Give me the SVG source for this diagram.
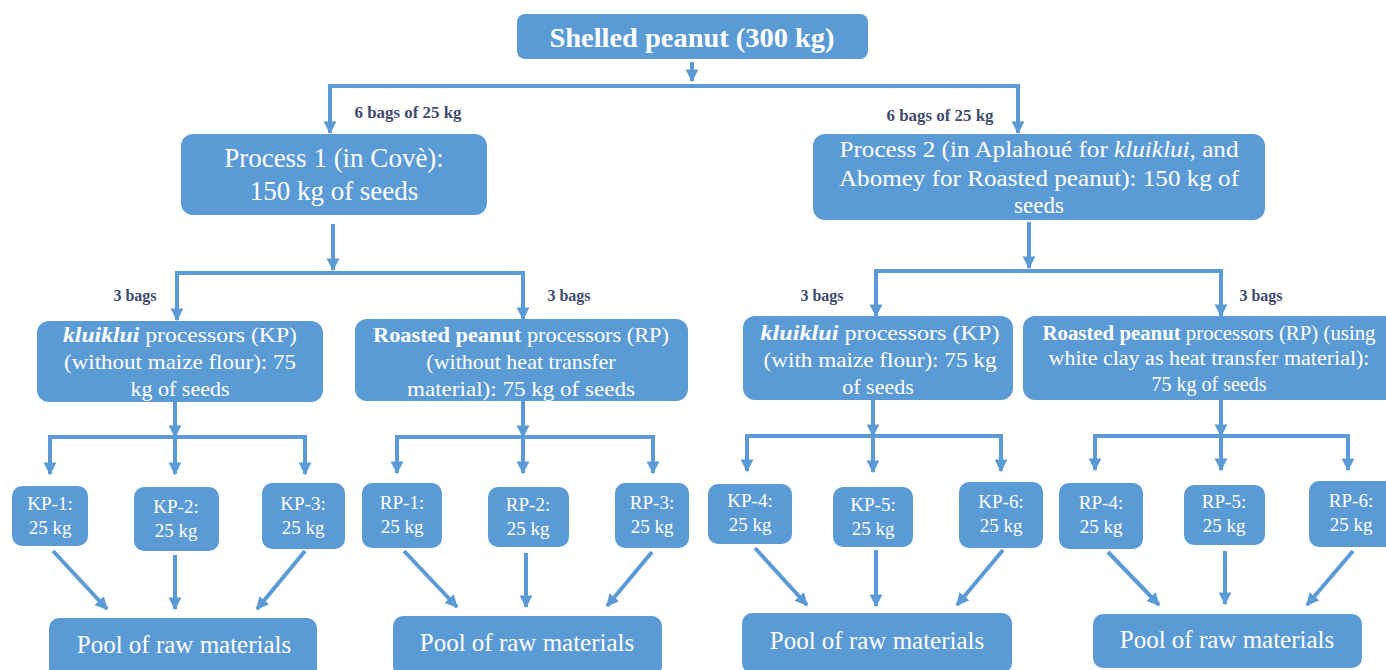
<svg xmlns="http://www.w3.org/2000/svg" width="1386" height="670" viewBox="0 0 1386 670" font-family="'Liberation Serif', 'Times New Roman', serif">
<defs>
<marker id="ah" viewBox="0 0 10 10" refX="9" refY="5" markerWidth="3.2" markerHeight="3.2" orient="auto" markerUnits="strokeWidth">
<path d="M0,0 L10,5 L0,10 z" fill="#5B9BD5"/>
</marker>
<style>
.box{fill:#5B9BD5;}
.t{font-family:"Liberation Serif","Times New Roman",serif;fill:#ffffff;text-anchor:middle;}
.lbl{font-family:"Liberation Serif","Times New Roman",serif;fill:#3E4B6E;font-size:16px;font-weight:bold;text-anchor:middle;}
.c{stroke:#5B9BD5;stroke-width:4;fill:none;}
.ca{stroke:#5B9BD5;stroke-width:4;fill:none;marker-end:url(#ah);}
</style>
</defs>
<rect width="1386" height="670" fill="#ffffff"/>

<g id="connectors">
<line class="ca" x1="692" y1="62" x2="692" y2="81"/>
<polyline class="c" points="330,133 330,86 1018,86 1018,133"/>
<line class="ca" x1="330" y1="100" x2="330" y2="133"/>
<line class="ca" x1="1018" y1="100" x2="1018" y2="133"/>
<line class="ca" x1="333" y1="224" x2="333" y2="270"/>
<polyline class="c" points="177,300 177,273 523,273 523,300"/>
<line class="ca" x1="177" y1="290" x2="177" y2="320"/>
<line class="ca" x1="523" y1="290" x2="523" y2="319"/>
<line class="ca" x1="1029" y1="222" x2="1029" y2="268"/>
<polyline class="c" points="876,300 876,271 1221,271 1221,300"/>
<line class="ca" x1="876" y1="290" x2="876" y2="316"/>
<line class="ca" x1="1221" y1="290" x2="1221" y2="316"/>

<line class="ca" x1="175" y1="402" x2="175" y2="437"/>
<polyline class="c" points="50,460 50,437 305,437 305,460"/>
<line class="ca" x1="50" y1="450" x2="50" y2="474"/>
<line class="ca" x1="175" y1="437" x2="175" y2="474"/>
<line class="ca" x1="305" y1="450" x2="305" y2="474"/>

<line class="ca" x1="523" y1="401" x2="523" y2="437"/>
<polyline class="c" points="397,460 397,437 653,437 653,460"/>
<line class="ca" x1="397" y1="450" x2="397" y2="473"/>
<line class="ca" x1="523" y1="437" x2="523" y2="473"/>
<line class="ca" x1="653" y1="450" x2="653" y2="473"/>

<line class="ca" x1="873" y1="400" x2="873" y2="436"/>
<polyline class="c" points="747,460 747,436 1001,436 1001,460"/>
<line class="ca" x1="747" y1="450" x2="747" y2="471"/>
<line class="ca" x1="873" y1="436" x2="873" y2="472"/>
<line class="ca" x1="1001" y1="450" x2="1001" y2="471"/>

<line class="ca" x1="1221" y1="400" x2="1221" y2="436"/>
<polyline class="c" points="1095,460 1095,436 1348,436 1348,460"/>
<line class="ca" x1="1095" y1="450" x2="1095" y2="470"/>
<line class="ca" x1="1221" y1="436" x2="1221" y2="470"/>
<line class="ca" x1="1348" y1="450" x2="1348" y2="470"/>

<line class="ca" x1="53" y1="551" x2="107" y2="609"/>
<line class="ca" x1="175" y1="555" x2="175" y2="609"/>
<line class="ca" x1="305" y1="551" x2="257" y2="609"/>
<line class="ca" x1="404" y1="551" x2="457" y2="607"/>
<line class="ca" x1="526" y1="553" x2="526" y2="607"/>
<line class="ca" x1="652" y1="552" x2="607" y2="606"/>
<line class="ca" x1="755" y1="548" x2="807" y2="605"/>
<line class="ca" x1="876" y1="550" x2="876" y2="606"/>
<line class="ca" x1="1003" y1="550" x2="957" y2="605"/>
<line class="ca" x1="1108" y1="552" x2="1159" y2="605"/>
<line class="ca" x1="1225" y1="551" x2="1225" y2="604"/>
<line class="ca" x1="1353" y1="551" x2="1307" y2="605"/>
</g>

<g id="labels">
<text class="lbl" x="408" y="118" textLength="107" lengthAdjust="spacingAndGlyphs">6 bags of 25 kg</text>
<text class="lbl" x="940" y="121" textLength="107" lengthAdjust="spacingAndGlyphs">6 bags of 25 kg</text>
<text class="lbl" x="135" y="301">3 bags</text>
<text class="lbl" x="569" y="301">3 bags</text>
<text class="lbl" x="822" y="301">3 bags</text>
<text class="lbl" x="1261" y="301">3 bags</text>
</g>

<g id="n-top">
<rect class="box" x="517" y="14" width="351" height="45" rx="8"/>
<text class="t" x="692" y="47" font-size="28" font-weight="bold" textLength="285" lengthAdjust="spacingAndGlyphs">Shelled peanut (300 kg)</text>
</g>

<g id="n-p1">
<rect class="box" x="181" y="134" width="306" height="81" rx="12"/>
<text class="t" x="334" y="167" font-size="27">Process 1 (in Covè):</text>
<text class="t" x="334" y="200" font-size="27">150 kg of seeds</text>
</g>

<g id="n-p2">
<rect class="box" x="813" y="134" width="452" height="86" rx="12"/>
<text class="t" x="1039" y="157" font-size="23" textLength="399" lengthAdjust="spacingAndGlyphs">Process 2 (in Aplahoué for <tspan font-style="italic">kluiklui</tspan>, and</text>
<text class="t" x="1039" y="186" font-size="23" textLength="400" lengthAdjust="spacingAndGlyphs">Abomey for Roasted peanut): 150 kg of</text>
<text class="t" x="1039" y="213" font-size="23">seeds</text>
</g>

<g id="n-kp1">
<rect class="box" x="37" y="321" width="286" height="81" rx="12"/>
<text class="t" x="180" y="342" font-size="22" textLength="234" lengthAdjust="spacingAndGlyphs"><tspan font-weight="bold" font-style="italic">kluiklui</tspan> processors (KP)</text>
<text class="t" x="180" y="369" font-size="22" textLength="232" lengthAdjust="spacingAndGlyphs">(without maize flour): 75</text>
<text class="t" x="180" y="396" font-size="22">kg of seeds</text>
</g>

<g id="n-rp1">
<rect class="box" x="355" y="319" width="333" height="82" rx="12"/>
<text class="t" x="521" y="342" font-size="21" textLength="296" lengthAdjust="spacingAndGlyphs"><tspan font-weight="bold">Roasted peanut</tspan> processors (RP)</text>
<text class="t" x="521" y="369" font-size="22">(without heat transfer</text>
<text class="t" x="521" y="396" font-size="22" textLength="228" lengthAdjust="spacingAndGlyphs">material): 75 kg of seeds</text>
</g>

<g id="n-kp2">
<rect class="box" x="743" y="316" width="270" height="84" rx="12"/>
<text class="t" x="880" y="340" font-size="22" textLength="239" lengthAdjust="spacingAndGlyphs"><tspan font-weight="bold" font-style="italic">kluiklui</tspan> processors (KP)</text>
<text class="t" x="880" y="367" font-size="22" textLength="233" lengthAdjust="spacingAndGlyphs">(with maize flour): 75 kg</text>
<text class="t" x="878" y="394" font-size="22">of seeds</text>
</g>

<g id="n-rp2">
<rect class="box" x="1023" y="316" width="375" height="84" rx="12"/>
<text class="t" x="1209" y="340" font-size="20" textLength="333" lengthAdjust="spacingAndGlyphs"><tspan font-weight="bold">Roasted peanut</tspan> processors (RP) (using</text>
<text class="t" x="1209" y="365" font-size="20" textLength="321" lengthAdjust="spacingAndGlyphs">white clay as heat transfer material):</text>
<text class="t" x="1209" y="391" font-size="20">75 kg of seeds</text>
</g>

<g id="n-kp-1"><rect class="box" x="12" y="486" width="76" height="60" rx="10"/><text class="t" x="50" y="510" font-size="19">KP-1:</text><text class="t" x="50" y="534" font-size="19">25 kg</text></g>
<g id="n-kp-2"><rect class="box" x="134" y="487" width="85" height="64" rx="10"/><text class="t" x="176" y="513" font-size="19">KP-2:</text><text class="t" x="176" y="537" font-size="19">25 kg</text></g>
<g id="n-kp-3"><rect class="box" x="262" y="483" width="83" height="66" rx="10"/><text class="t" x="303" y="510" font-size="19">KP-3:</text><text class="t" x="303" y="534" font-size="19">25 kg</text></g>
<g id="n-rp-1"><rect class="box" x="362" y="483" width="80" height="65" rx="10"/><text class="t" x="402" y="509" font-size="19">RP-1:</text><text class="t" x="402" y="533" font-size="19">25 kg</text></g>
<g id="n-rp-2"><rect class="box" x="488" y="487" width="81" height="60" rx="10"/><text class="t" x="528" y="511" font-size="19">RP-2:</text><text class="t" x="528" y="535" font-size="19">25 kg</text></g>
<g id="n-rp-3"><rect class="box" x="615" y="483" width="74" height="65" rx="10"/><text class="t" x="652" y="509" font-size="19">RP-3:</text><text class="t" x="652" y="533" font-size="19">25 kg</text></g>
<g id="n-kp-4"><rect class="box" x="708" y="484" width="84" height="60" rx="10"/><text class="t" x="750" y="507" font-size="19">KP-4:</text><text class="t" x="750" y="531" font-size="19">25 kg</text></g>
<g id="n-kp-5"><rect class="box" x="833" y="487" width="80" height="60" rx="10"/><text class="t" x="873" y="511" font-size="19">KP-5:</text><text class="t" x="873" y="535" font-size="19">25 kg</text></g>
<g id="n-kp-6"><rect class="box" x="959" y="482" width="84" height="66" rx="10"/><text class="t" x="1001" y="508" font-size="19">KP-6:</text><text class="t" x="1001" y="532" font-size="19">25 kg</text></g>
<g id="n-rp-4"><rect class="box" x="1059" y="483" width="84" height="66" rx="10"/><text class="t" x="1101" y="509" font-size="19">RP-4:</text><text class="t" x="1101" y="533" font-size="19">25 kg</text></g>
<g id="n-rp-5"><rect class="box" x="1184" y="485" width="81" height="60" rx="10"/><text class="t" x="1224" y="508" font-size="19">RP-5:</text><text class="t" x="1224" y="532" font-size="19">25 kg</text></g>
<g id="n-rp-6"><rect class="box" x="1309" y="481" width="90" height="66" rx="10"/><text class="t" x="1351" y="507" font-size="19">RP-6:</text><text class="t" x="1351" y="531" font-size="19">25 kg</text></g>

<g id="n-pool1"><rect class="box" x="49" y="618" width="268" height="60" rx="10"/><text class="t" x="184" y="653" font-size="25">Pool of raw materials</text></g>
<g id="n-pool2"><rect class="box" x="393" y="616" width="269" height="60" rx="10"/><text class="t" x="527" y="651" font-size="25">Pool of raw materials</text></g>
<g id="n-pool3"><rect class="box" x="742" y="613" width="270" height="60" rx="10"/><text class="t" x="877" y="649" font-size="25">Pool of raw materials</text></g>
<g id="n-pool4"><rect class="box" x="1093" y="614" width="269" height="54" rx="10"/><text class="t" x="1227" y="648" font-size="25">Pool of raw materials</text></g>
</svg>
